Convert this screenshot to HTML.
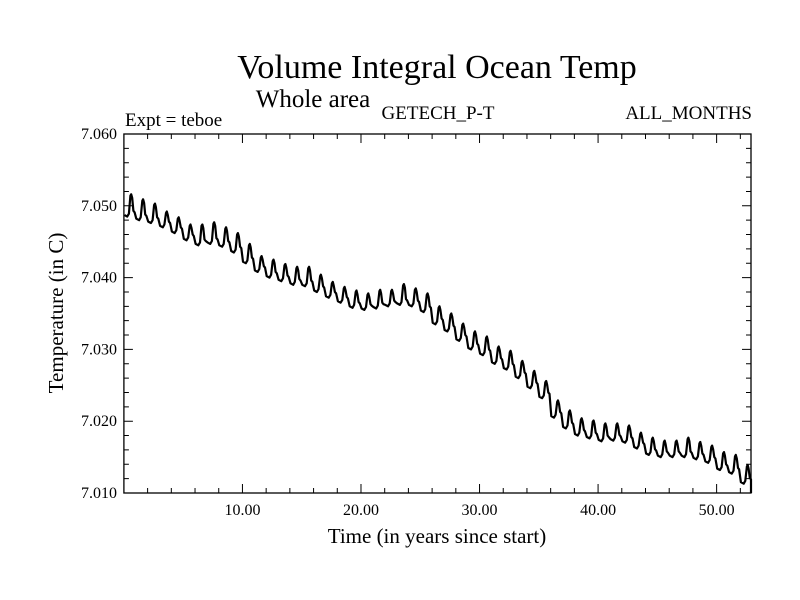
<!DOCTYPE html>
<html><head><meta charset="utf-8"><style>
html,body{margin:0;padding:0;background:#fff;}
svg{display:block;font-family:"Liberation Serif",serif;}
</style></head><body>
<svg id="chart" width="800" height="600" viewBox="0 0 800 600">
<text x="437" y="78" font-size="34" text-anchor="middle">Volume Integral Ocean Temp</text>
<text x="313" y="107" font-size="25" text-anchor="middle">Whole area</text>
<text x="125" y="126" font-size="19">Expt = teboe</text>
<text x="438" y="119" font-size="19" text-anchor="middle">GETECH_P-T</text>
<text x="752" y="119" font-size="19" text-anchor="end">ALL_MONTHS</text>
<text x="437" y="543" font-size="21" text-anchor="middle">Time (in years since start)</text>
<text transform="translate(63,313) rotate(-90)" font-size="21" text-anchor="middle">Temperature (in C)</text>
<g id="axes"></g>
<g id="series"></g>
</svg>
<script>
const xTicks = [10, 20, 30, 40, 50];
const xTickLabels = ["10.00", "20.00", "30.00", "40.00", "50.00"];
const yTicks = [7.010, 7.020, 7.030, 7.040, 7.050, 7.060];
const yTickLabels = ["7.010", "7.020", "7.030", "7.040", "7.050", "7.060"];
const peakVals = [7.0516,7.0509,7.0503,7.0492,7.0484,7.0474,7.0474,7.0477,7.0470,7.0462,7.0447,7.0430,7.0425,7.0419,7.0415,7.0415,7.0404,7.0394,7.0387,7.0382,7.0378,7.0383,7.0383,7.0391,7.0385,7.0378,7.0360,7.0350,7.0336,7.0325,7.0318,7.0304,7.0298,7.0284,7.0270,7.0256,7.0229,7.0215,7.0204,7.0201,7.0197,7.0197,7.0194,7.0184,7.0177,7.0173,7.0173,7.0177,7.0171,7.0166,7.0157,7.0153,7.0139];
const troughVals = [7.0485,7.0480,7.0476,7.0470,7.0462,7.0452,7.0445,7.0447,7.0443,7.0435,7.0420,7.0408,7.0400,7.0395,7.0390,7.0388,7.0380,7.0372,7.0365,7.0358,7.0355,7.0357,7.0360,7.0362,7.0360,7.0352,7.0335,7.0325,7.0312,7.0300,7.0292,7.0280,7.0272,7.0260,7.0246,7.0232,7.0205,7.0190,7.0180,7.0176,7.0172,7.0173,7.0170,7.0162,7.0153,7.0150,7.0150,7.0150,7.0147,7.0142,7.0132,7.0127,7.0113];
const endVal = 7.0100;
const X0 = 123.9, X1 = 751, Y0 = 134, Y1 = 493, XMAX = 52.9, YMIN = 7.010, YMAX = 7.060;
const xs = v => X0 + v / XMAX * (X1 - X0);
const ys = v => Y1 - (v - YMIN) / (YMAX - YMIN) * (Y1 - Y0);
const NS = "http://www.w3.org/2000/svg";
const axes = document.getElementById('axes');
function mk(tag, attrs, parent){const e=document.createElementNS(NS,tag);for(const k in attrs)e.setAttribute(k,attrs[k]);parent.appendChild(e);return e;}
const frame = mk('rect',{x:X0,y:Y0,width:X1-X0,height:Y1-Y0,fill:'none',stroke:'#000','stroke-width':1.3},axes);


for(let t=2;t<XMAX;t+=2){
  const major = t%10===0, L = major?9:5, x=xs(t);
  const tk = mk('path',{d:`M${x},${Y1}v${-L}M${x},${Y0}v${L}`,stroke:'#000','stroke-width':1},axes);
  
  
}
xTicks.forEach((t,i)=>{
  const tx = mk('text',{x:xs(t),y:515,'font-size':16,'text-anchor':'middle'},axes);
  tx.textContent = xTickLabels[i];
  
  
});
for(let k=1;k<25;k++){
  const v = YMIN + k*0.002, major = k%5===0, L = major?9:5, y=ys(v);
  const tk = mk('path',{d:`M${X0},${y}h${L}M${X1},${y}h${-L}`,stroke:'#000','stroke-width':1},axes);
  
  
}
yTicks.forEach((t,i)=>{
  const tx = mk('text',{x:117,y:ys(t)+5,'font-size':16,'text-anchor':'end'},axes);
  tx.textContent = yTickLabels[i];
  
  
});
let pts = [];
for(let i=0;i<peakVals.length;i++){
  const tr = troughVals[i], pk = peakVals[i];
  pts.push([xs(i+0.05),ys(tr+0.0002)]);
  pts.push([xs(i+0.28),ys(tr)]);
  pts.push([xs(i+0.42),ys(tr+0.0004)]);
  pts.push([xs(i+0.55),ys(pk-0.0002)]);
  pts.push([xs(i+0.62),ys(pk)]);
  pts.push([xs(i+0.7),ys(pk-0.0005)]);
  pts.push([xs(i+0.8),ys(tr+0.0008)]);
  pts.push([xs(i+0.9),ys(tr+0.0006)]);
}
pts.push([xs(XMAX),ys(endVal)]);
const line = mk('polyline',{points:pts.map(p=>p[0].toFixed(1)+','+p[1].toFixed(1)).join(' '),fill:'none',stroke:'#000','stroke-width':2.2,'stroke-linejoin':'round'},document.getElementById('series'));


</script>
</body></html>
